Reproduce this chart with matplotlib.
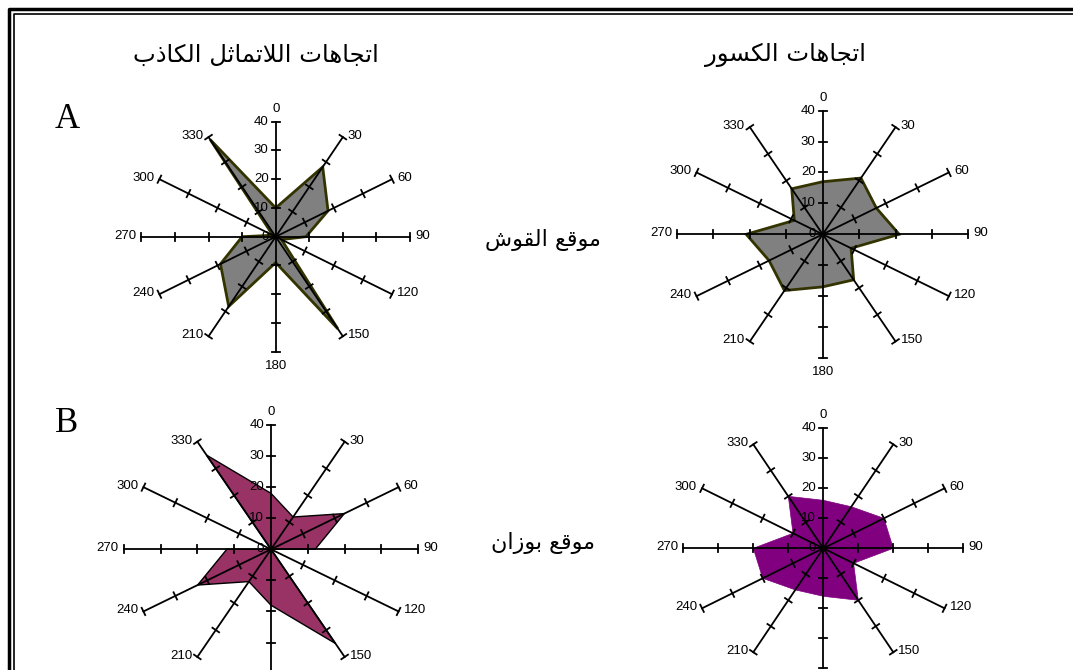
import numpy as np
import matplotlib
matplotlib.use('Agg')
import matplotlib.pyplot as plt
from matplotlib.lines import Line2D

W, H = 1073, 670

directions = [0, 30, 60, 90, 120, 150, 180, 210, 240, 270, 300, 330]
gauge = [10, 20, 30, 40]

# values (number of readings per direction)
qosh_false = [10, 28, 18, 9, 2, 37, 9, 28, 19, 10, 1, 39]
qosh_fract = [17, 21, 17, 21, 9, 17, 17, 21, 17, 21, 9, 17]
bozan_false = [18, 12, 23, 12, 0, 35, 18, 12, 23, 12, 0, 35]
bozan_fract = [16, 16, 20, 20, 10, 20, 16, 16, 20, 20, 10, 20]

col_titles = ['اتجاهات اللاتماثل الكاذب', 'اتجاهات الكسور']
row_titles = ['موقع القوش', 'موقع بوزان']
row_letters = ['A', 'B']

# matplotlib does no arabic shaping, so pick the presentation forms by hand
FORMS = {
    'ا': ('\uFE8D', '\uFE8E', None, None),
    'ب': ('\uFE8F', '\uFE90', '\uFE91', '\uFE92'),
    'ت': ('\uFE95', '\uFE96', '\uFE97', '\uFE98'),
    'ث': ('\uFE99', '\uFE9A', '\uFE9B', '\uFE9C'),
    'ج': ('\uFE9D', '\uFE9E', '\uFE9F', '\uFEA0'),
    'ذ': ('\uFEAB', '\uFEAC', None, None),
    'ر': ('\uFEAD', '\uFEAE', None, None),
    'ز': ('\uFEAF', '\uFEB0', None, None),
    'س': ('\uFEB1', '\uFEB2', '\uFEB3', '\uFEB4'),
    'ش': ('\uFEB5', '\uFEB6', '\uFEB7', '\uFEB8'),
    'ع': ('\uFEC9', '\uFECA', '\uFECB', '\uFECC'),
    'ق': ('\uFED5', '\uFED6', '\uFED7', '\uFED8'),
    'ك': ('\uFED9', '\uFEDA', '\uFEDB', '\uFEDC'),
    'ل': ('\uFEDD', '\uFEDE', '\uFEDF', '\uFEE0'),
    'م': ('\uFEE1', '\uFEE2', '\uFEE3', '\uFEE4'),
    'ن': ('\uFEE5', '\uFEE6', '\uFEE7', '\uFEE8'),
    'ه': ('\uFEE9', '\uFEEA', '\uFEEB', '\uFEEC'),
    'و': ('\uFEED', '\uFEEE', None, None),
    'لا': ('\uFEFB', '\uFEFC', None, None),
}


def shape_arabic(text):
    tokens = []
    i = 0
    while i < len(text):
        if text[i:i + 2] == 'لا':
            tokens.append('لا')
            i += 2
        else:
            tokens.append(text[i])
            i += 1
    out = []
    for i, t in enumerate(tokens):
        if t not in FORMS:
            out.append(t)
            continue
        prev = tokens[i - 1] if i > 0 else None
        nxt = tokens[i + 1] if i + 1 < len(tokens) else None
        join_prev = prev in FORMS and FORMS[prev][2] is not None
        join_next = FORMS[t][2] is not None and nxt in FORMS
        if join_prev and join_next:
            out.append(FORMS[t][3])
        elif join_prev:
            out.append(FORMS[t][1])
        elif join_next:
            out.append(FORMS[t][2])
        else:
            out.append(FORMS[t][0])
    return ''.join(reversed(out))


fig = plt.figure(figsize=(W / 100, H / 100), dpi=100)
fig.patch.set_facecolor('white')


def radar(cx, cy, rx, ry, values, face, edge, lw, bottom_label=True):
    ax = fig.add_axes([(cx - rx) / W, (H - cy - ry) / H, 2 * rx / W, 2 * ry / H])
    ax.set_xlim(-40, 40)
    ax.set_ylim(-40, 40)
    ax.axis('off')
    th = np.radians(directions)
    v = np.array(values)
    ax.fill(v * np.sin(th), v * np.cos(th), facecolor=face, edgecolor=edge,
            linewidth=lw, zorder=1, clip_on=False)
    sx, sy = rx / 40, ry / 40
    for t, d in zip(th, directions):
        ax.plot([0, 40 * np.sin(t)], [0, 40 * np.cos(t)], color='k', lw=1.3,
                zorder=2, clip_on=False)
        px, py = np.sin(t) * sx, np.cos(t) * sy
        n = np.hypot(px, py)
        qx, qy = -py / n * 4 / sx, px / n * 4 / sy
        for g in gauge:
            gx, gy = g * np.sin(t), g * np.cos(t)
            ax.plot([gx - qx, gx + qx], [gy - qy, gy + qy], color='k', lw=1.3,
                    zorder=2, clip_on=False)
        end = (40 * np.sin(t), 40 * np.cos(t))
        if d == 0:
            off, ha, va = (0, 7), 'center', 'bottom'
        elif d == 180:
            if not bottom_label:
                continue
            off, ha, va = (0, -8), 'center', 'top'
        elif d < 180:
            off, ha, va = (5, 1), 'left', 'center'
        else:
            off, ha, va = (-5, 1), 'right', 'center'
        ax.annotate(str(d), end, xytext=off, textcoords='offset pixels',
                    ha=ha, va=va, fontsize=9.5, family='Liberation Sans')
    for g in [0] + gauge:
        ax.annotate(str(g), (0, g), xytext=(-7, 0), textcoords='offset pixels',
                    ha='right', va='center', fontsize=9.5, family='Liberation Sans',
                    zorder=3)


radar(275.7, 236.7, 134.3, 115, qosh_false, '#808080', '#333300', 2)
radar(822.7, 234.3, 145.7, 123.7, qosh_fract, '#808080', '#333300', 2)
radar(271, 549.3, 147.3, 124.3, bozan_false, '#993366', 'black', 1, False)
radar(823.3, 548.3, 140, 120, bozan_fract, '#800080', '#800080', 0.5, False)

for x, s in zip([256, 786], col_titles):
    fig.text(x / W, 1 - 55 / H, shape_arabic(s), ha='center', va='center',
             fontsize=17.5, family='DejaVu Sans')
for y, s in zip([240, 543], row_titles):
    fig.text(543 / W, 1 - y / H, shape_arabic(s), ha='center', va='center',
             fontsize=16, family='DejaVu Sans')
for y, s in zip([120, 423], row_letters):
    fig.text(67 / W, 1 - y / H, s, ha='center', va='center',
             fontsize=25, family='Liberation Serif')

# double frame round the page
fig.add_artist(Line2D([9 / W, 9 / W, 1], [0, 1 - 9 / H, 1 - 9 / H],
                      transform=fig.transFigure, color='k', lw=2.5))
fig.add_artist(Line2D([14 / W, 14 / W, 1], [0, 1 - 14 / H, 1 - 14 / H],
                      transform=fig.transFigure, color='k', lw=1.2))

fig.savefig('out.png', dpi=100)
